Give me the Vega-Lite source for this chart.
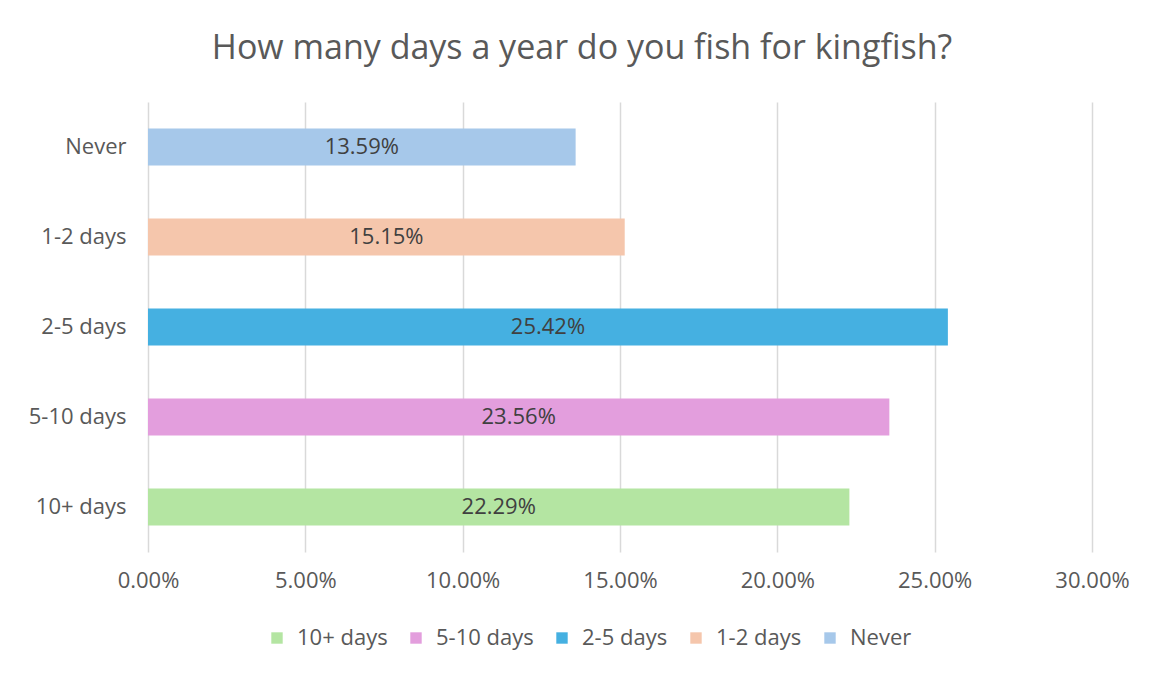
{
  "$schema": "https://vega.github.io/schema/vega-lite/v6.json",
  "width": 944,
  "height": 450,
  "autosize": "none",
  "padding": {"left": 148, "top": 102, "right": 62, "bottom": 129},
  "background": "white",
  "config": {
    "font": "Open Sans",
    "view": {"stroke": null}
  },
  "title": {
    "text": "How many days a year do you fish for kingfish?",
    "fontSize": 34,
    "font": "Open Sans",
    "fontWeight": "normal",
    "color": "#595959",
    "anchor": "middle",
    "dx": -38,
    "offset": 36
  },
  "data": {
    "values": [
      {"category": "Never", "value": 0.1359},
      {"category": "1-2 days", "value": 0.1515},
      {"category": "2-5 days", "value": 0.2542},
      {"category": "5-10 days", "value": 0.2356},
      {"category": "10+ days", "value": 0.2229}
    ]
  },
  "encoding": {
    "y": {
      "field": "category",
      "type": "nominal",
      "sort": ["Never", "1-2 days", "2-5 days", "5-10 days", "10+ days"],
      "scale": {"paddingInner": 0.59, "paddingOuter": 0.295},
      "axis": {
        "title": null,
        "domain": false,
        "ticks": false,
        "labelFontSize": 22,
        "labelColor": "#595959",
        "labelPadding": 22,
        "labelFont": "Open Sans"
      }
    }
  },
  "layer": [
    {
      "mark": {"type": "bar"},
      "encoding": {
        "x": {
          "field": "value",
          "type": "quantitative",
          "scale": {"domain": [0, 0.3], "nice": false},
          "axis": {
            "title": null,
            "format": ".2%",
            "values": [0, 0.05, 0.1, 0.15, 0.2, 0.25, 0.3],
            "grid": true,
            "gridColor": "#d9d9d9",
            "gridWidth": 1.5,
            "domain": false,
            "ticks": false,
            "labelFlush": false,
            "labelFontSize": 22,
            "labelColor": "#595959",
            "labelPadding": 18,
            "labelFont": "Open Sans"
          }
        },
        "color": {
          "field": "category",
          "type": "nominal",
          "scale": {
            "domain": ["10+ days", "5-10 days", "2-5 days", "1-2 days", "Never"],
            "range": ["#B4E5A2", "#E39EDD", "#45B0E1", "#F5C6AC", "#A6C8EA"]
          },
          "legend": {
            "title": null,
            "orient": "none",
            "direction": "horizontal",
            "legendX": 118,
            "legendY": 525,
            "symbolType": "square",
            "symbolSize": 130,
            "symbolStrokeWidth": 0,
            "labelFontSize": 22,
            "labelColor": "#595959",
            "labelFont": "Open Sans",
            "columnPadding": 17,
            "labelOffset": 9
          }
        }
      }
    },
    {
      "mark": {"type": "text", "fontSize": 22, "color": "#404040", "font": "Open Sans", "align": "center", "baseline": "middle"},
      "encoding": {
        "x": {
          "field": "value",
          "type": "quantitative",
          "scale": {"domain": [0, 0.6], "nice": false},
          "axis": null
        },
        "text": {"field": "value", "type": "quantitative", "format": ".2%"}
      }
    }
  ],
  "resolve": {"scale": {"x": "independent"}}
}
